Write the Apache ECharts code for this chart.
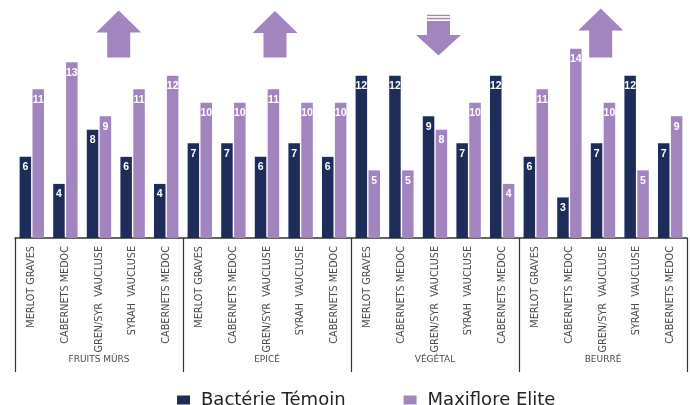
<!DOCTYPE html>
<html>
<head>
<meta charset="utf-8">
<script src="https://cdn.jsdelivr.net/npm/echarts@6/dist/echarts.min.js"></script>
<style>
html,body{margin:0;padding:0;background:#fff;}
#c{width:690px;height:405px;}
</style>
</head>
<body>
<div id="c"></div>
<script>
const groups = ['FRUITS MÛRS', 'EPICÉ', 'VÉGÉTAL', 'BEURRÉ'];
const wines = ['MERLOT GRAVES', 'CABERNETS MEDOC', 'GREN/SYR  VAUCLUSE', 'SYRAH  VAUCLUSE', 'CABERNETS MEDOC'];
const categories = [];
groups.forEach(() => wines.forEach(w => categories.push(w)));
const temoin = [6, 4, 8, 6, 4, 7, 7, 6, 7, 6, 12, 12, 9, 7, 12, 6, 3, 7, 12, 7];
const maxiflore = [11, 13, 9, 11, 12, 10, 10, 11, 10, 10, 5, 5, 8, 10, 4, 11, 14, 10, 5, 9];
const arrowDirections = ['up', 'up', 'down', 'up'];

const DARK = '#1e2c59';
const PURPLE = '#a285bf';
const FONT = 'DejaVu Sans';

function upArrow(cx, tip) {
  return {
    type: 'polygon',
    shape: { points: [[cx, tip], [cx + 22.5, tip + 22], [cx + 11.5, tip + 22], [cx + 11.5, 57.5], [cx - 11.5, 57.5], [cx - 11.5, tip + 22], [cx - 22.5, tip + 22]] },
    style: { fill: PURPLE }
  };
}
function downArrow(cx) {
  return [
    { type: 'rect', shape: { x: cx - 11.5, y: 14.8, width: 23, height: 1.3 }, style: { fill: PURPLE } },
    { type: 'rect', shape: { x: cx - 11.5, y: 17.8, width: 23, height: 1.5 }, style: { fill: PURPLE } },
    {
      type: 'polygon',
      shape: { points: [[cx - 11.5, 21], [cx + 11.5, 21], [cx + 11.5, 35], [cx + 22.5, 35], [cx, 55.5], [cx - 22.5, 35], [cx - 11.5, 35]] },
      style: { fill: PURPLE }
    }
  ];
}
const arrowX = [118.7, 275, 438.5, 600.7];
const arrowTip = [10.5, 11, 0, 8.5];
let graphics = [];
arrowDirections.forEach((d, i) => {
  if (d === 'up') graphics.push(upArrow(arrowX[i], arrowTip[i]));
  else graphics = graphics.concat(downArrow(arrowX[i]));
});

const chart = echarts.init(document.getElementById('c'), null, { renderer: 'canvas' });
const labelCfg = {
  show: true, position: 'insideTop', distance: 5, color: '#fff',
  fontSize: 10.5, fontWeight: 'bold', fontFamily: 'Liberation Sans Narrow, Liberation Sans'
};
chart.setOption({
  animation: false,
  textStyle: { fontFamily: FONT },
  grid: { left: 15, right: 3, top: 0, bottom: 167 },
  legend: {
    left: 172, top: 386,
    itemWidth: 13, itemHeight: 9, itemGap: 58,
    icon: 'rect',
    textStyle: { fontSize: 18, color: '#222', fontFamily: FONT, padding: [0, 0, 0, 6] },
    data: ['Bactérie Témoin', 'Maxiflore Elite']
  },
  xAxis: [
    {
      type: 'category', data: categories, position: 'bottom',
      axisLine: { show: true, lineStyle: { color: '#333', width: 1.5 } },
      axisTick: { show: false },
      axisLabel: { interval: 0, rotate: 90, margin: 8, fontSize: 9.7, color: '#4a4a4a', fontFamily: FONT }
    },
    {
      type: 'category', data: groups, position: 'bottom',
      axisLine: { show: false },
      axisTick: { show: true, length: 134, inside: false, lineStyle: { color: '#333', width: 1.2 } },
      axisLabel: { interval: 0, margin: 117, fontSize: 9, color: '#4a4a4a', fontFamily: FONT }
    }
  ],
  yAxis: { type: 'value', min: 0, max: 17.6, show: false, splitLine: { show: false } },
  series: [
    {
      name: 'Bactérie Témoin', type: 'bar', xAxisIndex: 0, data: temoin,
      barWidth: 11.5, barGap: '12%', itemStyle: { color: DARK }, label: labelCfg
    },
    {
      name: 'Maxiflore Elite', type: 'bar', xAxisIndex: 0, data: maxiflore,
      barWidth: 11.5, barGap: '12%', itemStyle: { color: PURPLE }, label: labelCfg
    }
  ],
  graphic: graphics
});
</script>
</body>
</html>
